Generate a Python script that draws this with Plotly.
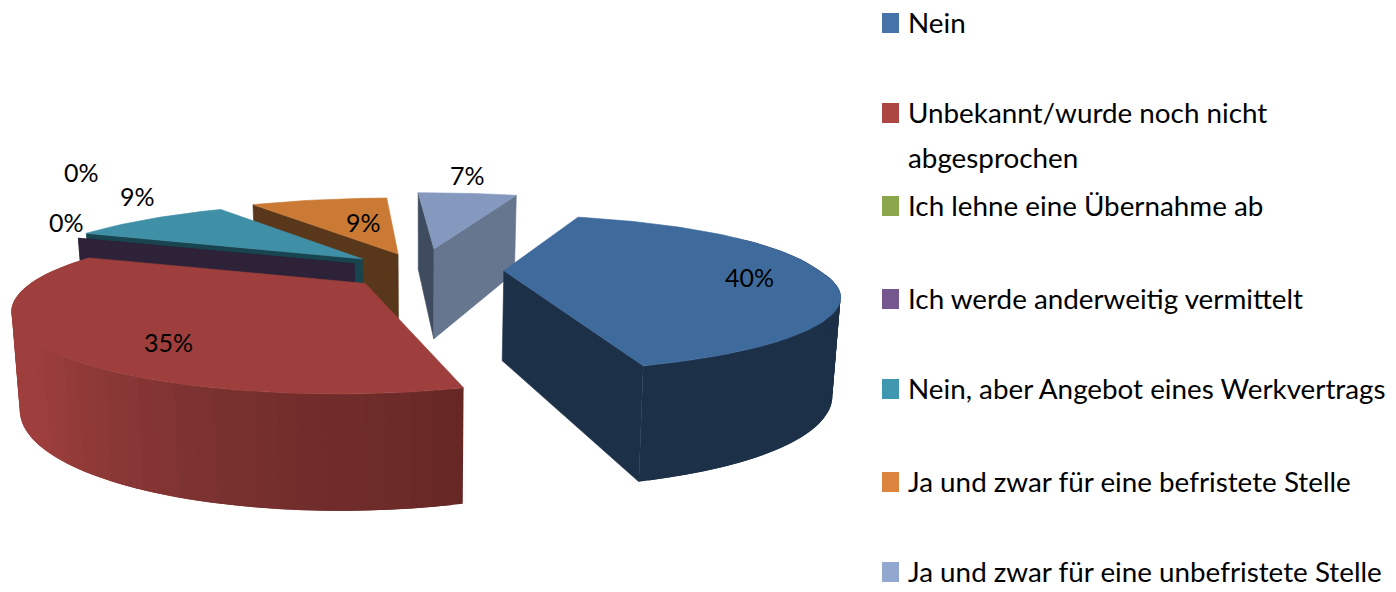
import math
import plotly.graph_objects as go

# ---- data ----
categories = ["Nein", "Unbekannt/wurde noch nicht\nabgesprochen", "Ich lehne eine Übernahme ab",
              "Ich werde anderweitig vermittelt", "Nein, aber Angebot eines Werkvertrags",
              "Ja und zwar für eine befristete Stelle", "Ja und zwar für eine unbefristete Stelle"]
values = [40, 35, 0, 0, 9, 9, 7]
pull = [80, 65, 82, 82, 92, 96, 123]

# ---- styles ----
legend_colors = ["#4674a8", "#ab4643", "#8ca64c", "#75568f", "#3f97b0", "#dc843d", "#93a8cf"]
top_colors = ["#3f6a9c", "#9e3f3d", "#7f9a45", "#2e2238", "#3f8fa6", "#ca7a35", "#8499bd"]
start_face = ["#1c3048", "#652725", "#2e2238", "#2e2238", "#17444f", "#59371a", "#3f4c60"]
end_face = ["#1c3048", "#652725", "#2e2238", "#2e2238", "#17444f", "#59371a", "#66768f"]
wall_stops = [[(0.0, "#27415f"), (0.5, "#1c3048"), (1.0, "#1c3048")],
              [(0.0, "#652725"), (0.28, "#7b3230"), (0.43, "#8f3a38"), (0.56, "#9e3f3d"), (1.0, "#9e3f3d")],
              None, None, None, None, None]
legend_y = [23, 113, 206, 299, 389, 482, 572]
label_pos = [(749, 277), (168, 342), (81, 172), (66, 222), (137, 196), (363, 222), (467, 175)]
FONT = "Lato, Liberation Sans, sans-serif"

# ---- projection of the tilted disc ----
A0, R, B, K, M = 20.0, 325.0, 0.25, 0.31, 0.03
CX, CY, D = 423.0, 270.0, 90.0
BACK_SHIFT, BACK_FRAC, FRONT_TILT = 6.0, 0.4, 0.07


def plane(a):
    r = math.radians(a)
    return math.sin(r), -math.cos(r)


def proj(u, v):
    f = (1 + K * v) * (1 - M * u)
    return R * u * f, R * B * v * f


def depth(v):
    return D * (1 + 0.3 * v) if v > 0 else D * (1 + 0.15 * v)


def down(x, y, v):
    return CX + (x - CX) * 0.98, y + depth(v)


def hex_rgb(h):
    return tuple(int(h[i:i + 2], 16) for i in (1, 3, 5))


def ramp(stops, t):
    for (t0, c0), (t1, c1) in zip(stops, stops[1:]):
        if t <= t1:
            w = (t - t0) / (t1 - t0)
            a, b = hex_rgb(c0), hex_rgb(c1)
            return "rgb(%d,%d,%d)" % tuple(round(p + (q - p) * w) for p, q in zip(a, b))
    return stops[-1][1]


fig = go.Figure()


def poly(xs, ys, color, width=0.6):
    fig.add_trace(go.Scatter(x=xs + xs[:1], y=ys + ys[:1], mode="lines", fill="toself",
                             fillcolor=color, line=dict(color=color, width=width),
                             hoverinfo="skip", showlegend=False))


# angular spans from values
spans = []
acc = A0
for val in values:
    da = val / sum(values) * 360
    spans.append((acc, acc + da))
    acc += da

# slices painted back to front
order = [6, 5, 4, 3, 2, 0, 1]
for i in order:
    s, e = spans[i]
    mu, mv = plane((s + e) / 2)
    g = 1 + K * mv
    ax = CX + pull[i] * mu * g
    ay = CY + pull[i] * B * mv * g

    def rim(a):
        u, v = plane(a)
        dx, dy = proj(u, v)
        off = ax - CX
        if v > 0:
            return ax + dx + off * K * v, ay + dy - off * FRONT_TILT * v, v
        return ax + dx + off * K * BACK_FRAC * v - BACK_SHIFT * v, ay + dy, v

    # outer wall strips
    if wall_stops[i]:
        n = max(2, int((e - s) / 3.0))
        strips = [(s + (e - s) * k / n, s + (e - s) * (k + 1) / n) for k in range(n)]
        strips = [st for st in strips if plane((st[0] + st[1]) / 2)[1] > -0.45]
        strips.sort(key=lambda st: plane((st[0] + st[1]) / 2)[1])
        for a0, a1 in strips:
            t = ((a0 + a1) / 2 - s) / (e - s)
            # each band carries on under its neighbour, so no seam shows
            lo, hi = max(s, a0 - 1.5), min(e, a1 + 1.5)
            sub = [lo + (hi - lo) * q / 4 for q in range(5)]
            pts = [rim(a) for a in sub]
            bot = [down(*p) for p in pts]
            poly([p[0] for p in pts] + [b[0] for b in reversed(bot)],
                 [p[1] for p in pts] + [b[1] for b in reversed(bot)],
                 ramp(wall_stops[i], t), width=0)

    # cut faces, when they look towards the viewer
    bax, bay = down(ax, ay, 0)
    for a, n_a, col in ((s, s - 90, start_face[i]), (e, e + 90, end_face[i])):
        if plane(n_a)[1] > 0:
            x, y, v = rim(a)
            bx, by = down(x, y, v)
            poly([ax, x, bx, bax], [ay, y, by, bay], col)

    # top face
    if e > s:
        n = max(2, int((e - s) / 1.5))
        pts = [rim(s + (e - s) * k / n) for k in range(n + 1)]
        poly([ax] + [p[0] for p in pts], [ay] + [p[1] for p in pts], top_colors[i])

annotations = []
for val, (x, y) in zip(values, label_pos):
    annotations.append(dict(x=x, y=y, text=f"{val}%", showarrow=False, xanchor="center", yanchor="middle",
                            font=dict(family=FONT, size=25, color="#000000")))

shapes = []
for lab, col, y in zip(categories, legend_colors, legend_y):
    shapes.append(dict(type="rect", xref="x", yref="y", x0=882, x1=899, y0=y - 10, y1=y + 10,
                       fillcolor=col, line=dict(width=0)))
    for j, line in enumerate(lab.split("\n")):
        annotations.append(dict(x=906, y=y - 1 + 45 * j, text=line, showarrow=False, xanchor="left", yanchor="middle",
                                font=dict(family=FONT, size=27.8, color="#000000")))

fig.update_layout(width=1396, height=592, margin=dict(l=0, r=0, t=0, b=0),
                  paper_bgcolor="#ffffff", plot_bgcolor="#ffffff", showlegend=False,
                  xaxis=dict(range=[0, 1396], visible=False, fixedrange=True),
                  yaxis=dict(range=[592, 0], visible=False, fixedrange=True),
                  annotations=annotations, shapes=shapes)
fig.write_html("out.html", config={"displayModeBar": False},
               post_script="document.body.style.margin='0';document.body.style.overflow='hidden';")
